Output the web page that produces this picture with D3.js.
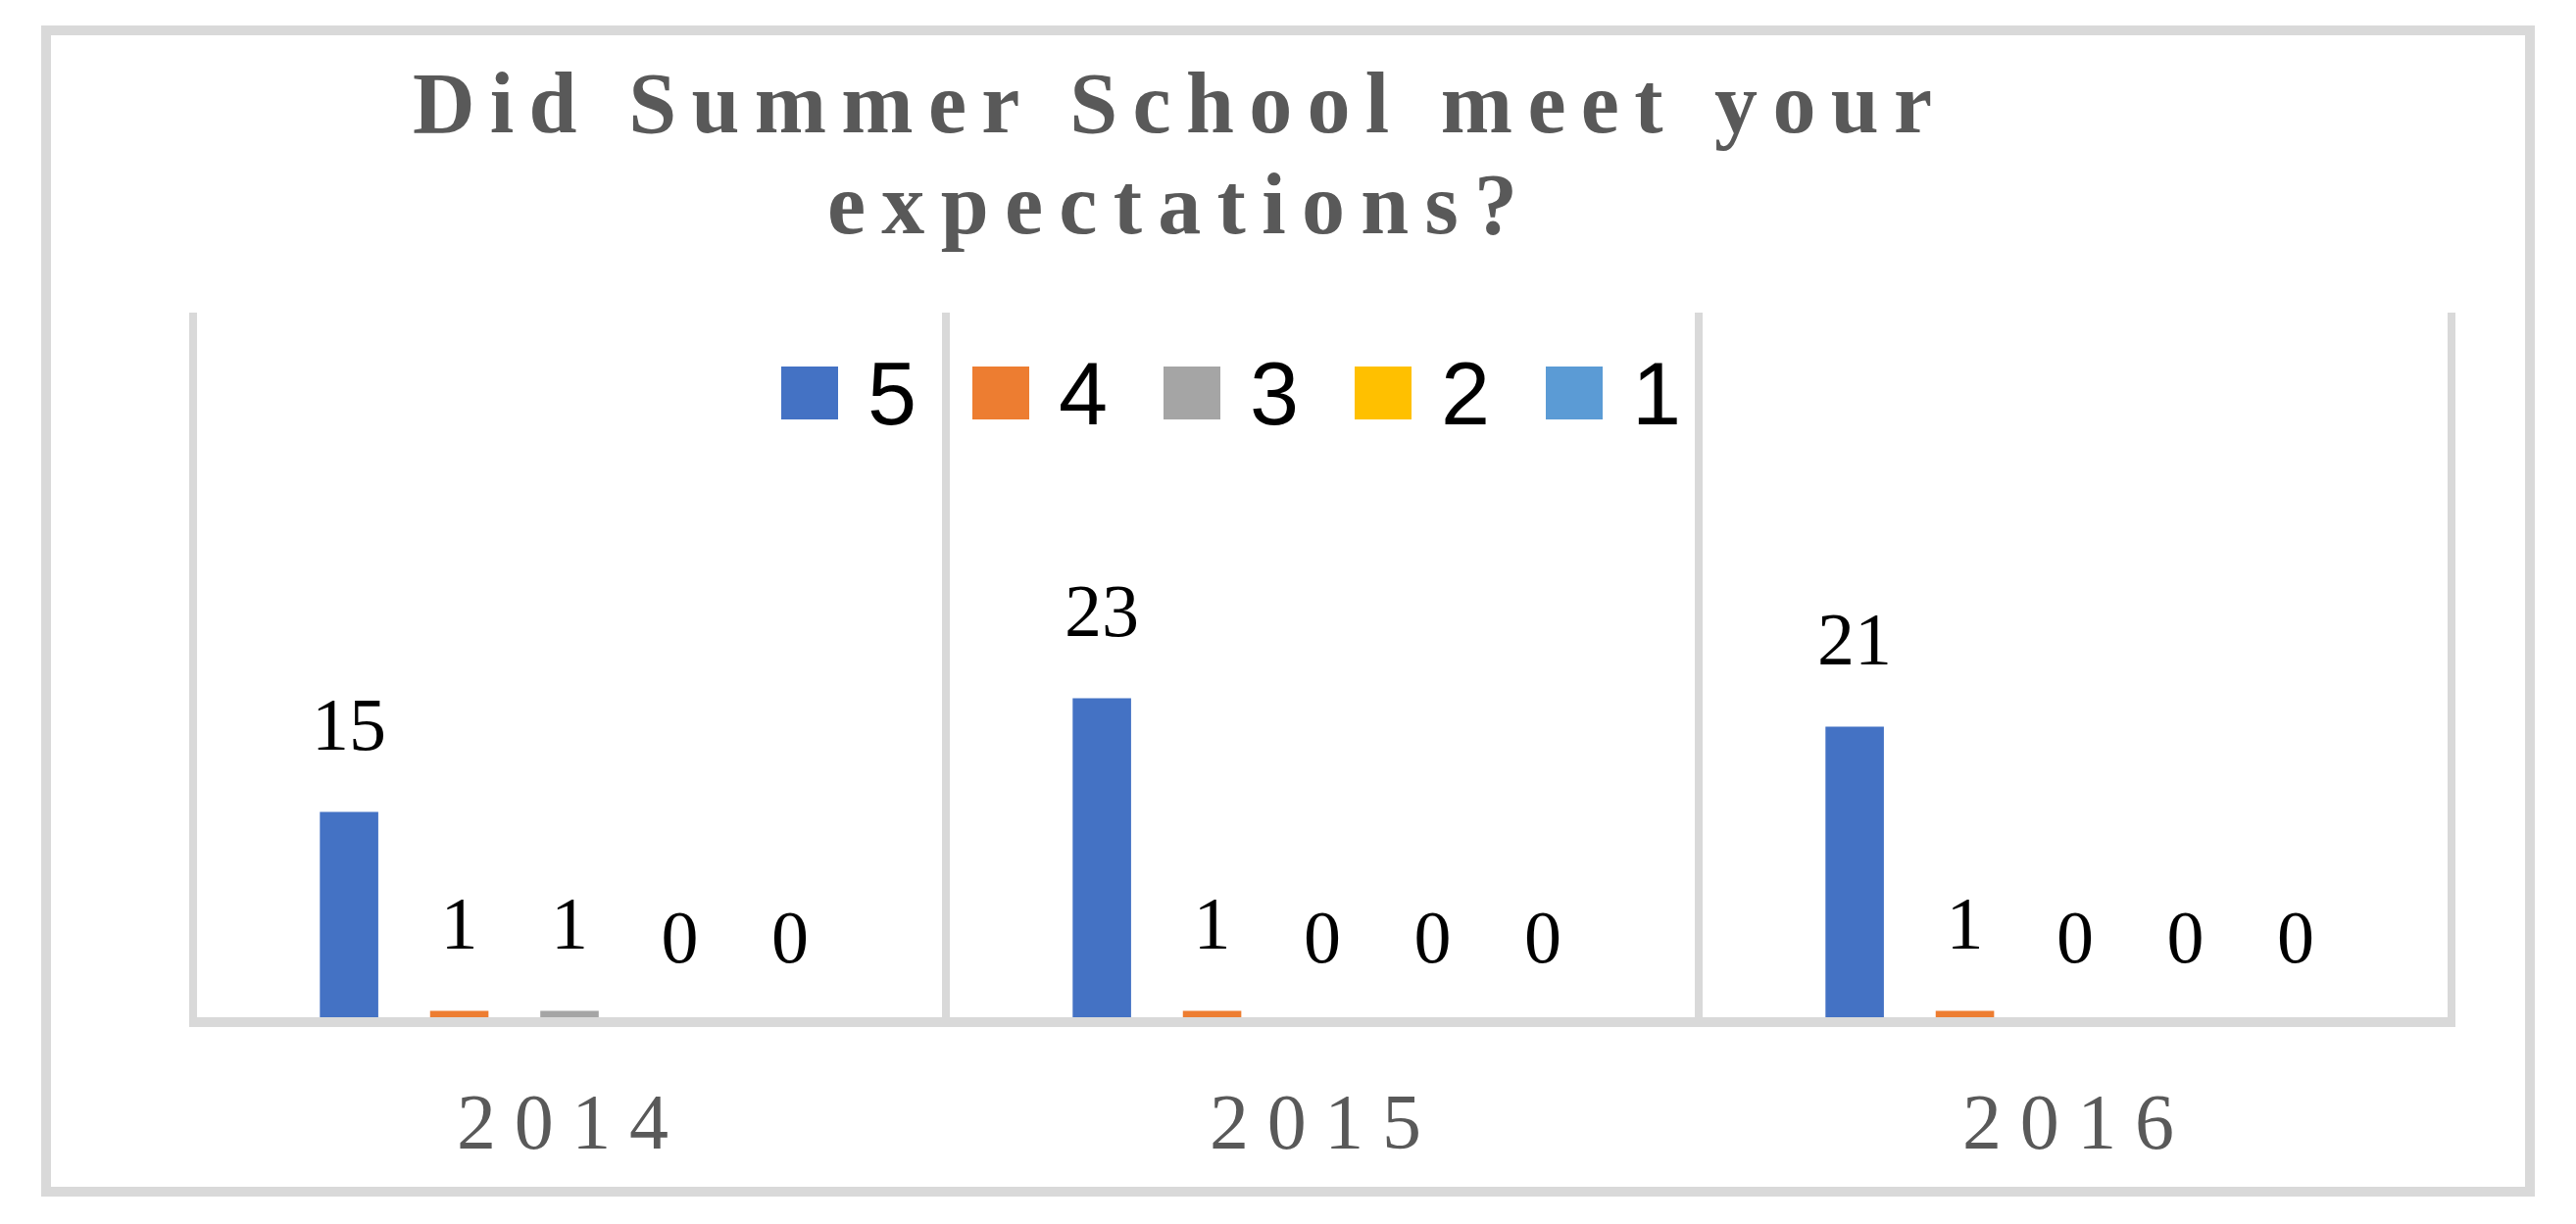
<!DOCTYPE html>
<html lang="en">
<head>
    <meta charset="UTF-8">
    <title>Summer School</title>
    <script src="https://d3js.org/d3.v7.min.js"></script>
    <style>
        body { margin: 0; background: #ffffff; }
        svg { display: block; }
        .title { font-family: "Liberation Serif", "Times New Roman", serif; font-weight: bold; fill: #595959; }
        .year { font-family: "Liberation Serif", "Times New Roman", serif; fill: #595959; }
        .value { font-family: "Liberation Serif", "Times New Roman", serif; fill: #000000; }
        .legend text { font-family: "Liberation Sans", Arial, sans-serif; fill: #000000; }
    </style>
</head>
<body>
<script>

    // data
    var years = ["2014", "2015", "2016"];
    var ratings = ["5", "4", "3", "2", "1"];
    var counts2014 = [15, 1, 1, 0, 0];
    var counts2015 = [23, 1, 0, 0, 0];
    var counts2016 = [21, 1, 0, 0, 0];
    var colors = ["#4472C4", "#ED7D31", "#A5A5A5", "#FFC000", "#5B9BD5"];
    var titleLines = ["Did Summer School meet your", "expectations?"];

    var counts = [counts2014, counts2015, counts2016];

    var width = 2628;
    var height = 1249;
    var gridColor = "#D9D9D9";

    var svg = d3.select("body")
        .append("svg")
        .attr("width", width)
        .attr("height", height);

    // outer frame
    svg.append("rect")
        .attr("x", 47)
        .attr("y", 31)
        .attr("width", 2534)
        .attr("height", 1185)
        .attr("fill", "#ffffff")
        .attr("stroke", gridColor)
        .attr("stroke-width", 10);

    // title, two lines, spaced out
    svg.selectAll(".title")
        .data(titleLines)
        .enter()
        .append("text")
        .attr("class", "title")
        .attr("x", 1196)
        .attr("y", function(d, i) { return 135 + i * 103; })
        .attr("text-anchor", "middle")
        .attr("font-size", 88)
        .attr("textLength", function(d, i) { return i === 0 ? 1550 : 704; })
        .attr("lengthAdjust", "spacing")
        .text(function(d) { return d; });

    // scales
    var x0 = d3.scaleBand()
        .domain(years)
        .range([197, 2501]);

    var x1 = d3.scaleBand()
        .domain(ratings)
        .range([0, x0.bandwidth()])
        .paddingInner(0.47)
        .paddingOuter(1.15);

    var y = d3.scaleLinear()
        .domain([0, 50])
        .range([1046, 321]);

    var color = d3.scaleOrdinal()
        .domain(ratings)
        .range(colors);

    // category separators
    var edges = years.map(function(d) { return x0(d); }).concat([x0.range()[1]]);
    svg.selectAll(".sep")
        .data(edges)
        .enter()
        .append("line")
        .attr("class", "sep")
        .attr("x1", function(d) { return d; })
        .attr("x2", function(d) { return d; })
        .attr("y1", y(50) - 2)
        .attr("y2", 1043)
        .attr("stroke", gridColor)
        .attr("stroke-width", 8);

    // bars
    var groups = svg.selectAll(".year-group")
        .data(years)
        .enter()
        .append("g")
        .attr("class", "year-group")
        .attr("transform", function(d) { return "translate(" + x0(d) + ",0)"; });

    groups.selectAll("rect")
        .data(function(d, i) {
            return ratings.map(function(r, j) { return { rating: r, value: counts[i][j] }; });
        })
        .enter()
        .append("rect")
        .attr("x", function(d) { return x1(d.rating); })
        .attr("width", x1.bandwidth())
        .attr("y", function(d) { return y(d.value); })
        .attr("height", function(d) { return y(0) - y(d.value); })
        .attr("fill", function(d) { return color(d.rating); });

    groups.selectAll(".value")
        .data(function(d, i) {
            return ratings.map(function(r, j) { return { rating: r, value: counts[i][j] }; });
        })
        .enter()
        .append("text")
        .attr("class", "value")
        .attr("x", function(d) { return x1(d.rating) + x1.bandwidth() / 2; })
        .attr("y", function(d) { return y(d.value) - 64; })
        .attr("text-anchor", "middle")
        .attr("font-size", 76)
        .text(function(d) { return d.value; });

    // x axis line, drawn over the bar bottoms
    svg.append("line")
        .attr("x1", x0.range()[0] - 4)
        .attr("x2", x0.range()[1] + 4)
        .attr("y1", 1043)
        .attr("y2", 1043)
        .attr("stroke", gridColor)
        .attr("stroke-width", 10);

    // year labels
    svg.selectAll(".year")
        .data(years)
        .enter()
        .append("text")
        .attr("class", "year")
        .attr("x", function(d) { return x0(d) + x0.bandwidth() / 2 - 7; })
        .attr("y", 1172)
        .attr("text-anchor", "middle")
        .attr("font-size", 80)
        .attr("textLength", 216)
        .attr("lengthAdjust", "spacing")
        .text(function(d) { return d; });

    // legend
    var legend = svg.append("g")
        .attr("class", "legend")
        .selectAll("g")
        .data(ratings)
        .enter()
        .append("g")
        .attr("transform", function(d, i) { return "translate(" + (797 + i * 195) + ",374)"; });

    legend.append("rect")
        .attr("width", 58)
        .attr("height", 54)
        .attr("fill", color);

    legend.append("text")
        .attr("x", 88)
        .attr("y", 59)
        .attr("font-size", 90)
        .text(function(d) { return d; });

</script>
</body>
</html>
